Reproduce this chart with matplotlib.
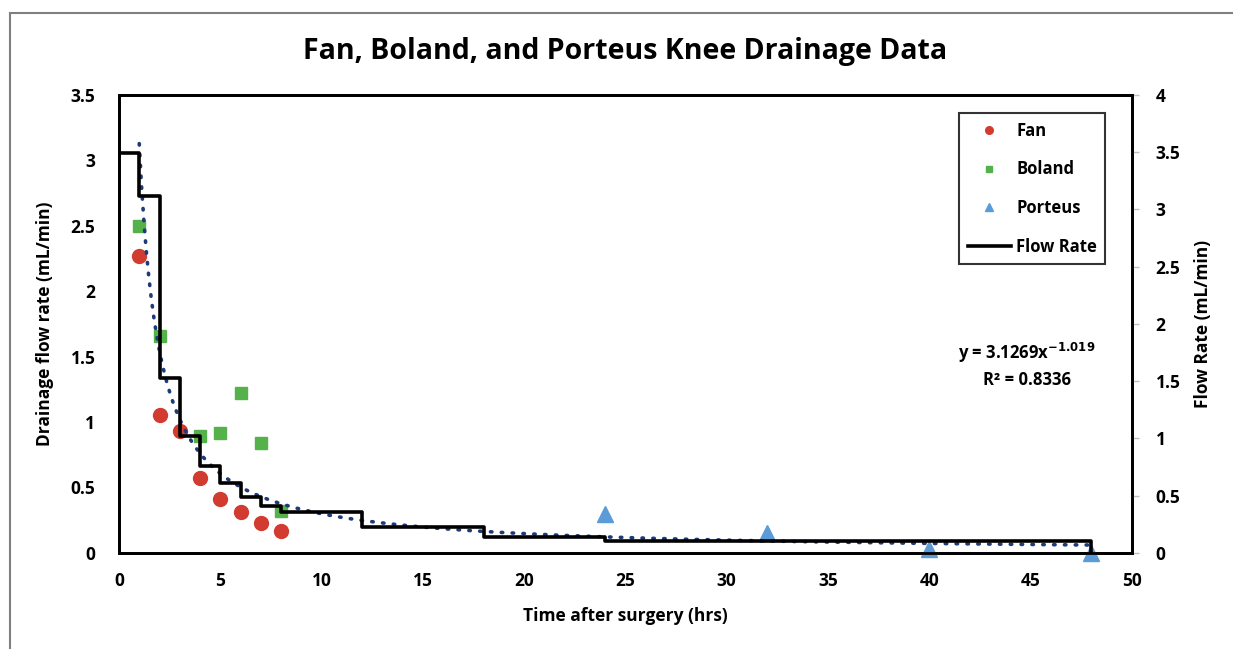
"""Fan, Boland and Porteus knee drainage data with step flow-rate profile."""

import numpy as np
import matplotlib

matplotlib.use("Agg")
import matplotlib.pyplot as plt
from matplotlib.patches import Rectangle

plt.rcParams["font.family"] = ["Open Sans", "DejaVu Sans"]
plt.rcParams["font.weight"] = "bold"

# Measured drainage rates (left axis, mL/min)
fan_t = [1, 2, 3, 4, 5, 6, 7, 8]
fan_rate = [2.27, 1.05, 0.93, 0.57, 0.41, 0.31, 0.23, 0.17]

boland_t = [1, 2, 4, 5, 6, 7, 8]
boland_rate = [2.50, 1.66, 0.89, 0.92, 1.22, 0.84, 0.32]

porteus_t = [24, 32, 40, 48]
porteus_rate = [0.30, 0.15, 0.03, 0.0]

# Step flow-rate profile (right axis, mL/min), value holds until next time
flow_t = [0, 1, 2, 3, 4, 5, 6, 7, 8, 12, 18, 24, 48]
flow_rate = [3.49, 3.12, 1.53, 1.02, 0.76, 0.61, 0.49, 0.41, 0.36, 0.23, 0.14, 0.105, 0.0]

# Power trendline as printed on the chart
trend_coef = 3.1269
trend_exp = -1.019
trend_r2 = 0.8336
trend_range = (1, 48)

fig = plt.figure(figsize=(12.33, 6.49), dpi=100)
ax = fig.add_axes([0.0965, 0.148, 0.8215, 0.706])

# outer chart frame (image is cropped on the right and bottom)
fig.patches.append(Rectangle((10 / 1233, -0.05), 1.1, 1 - 13 / 649 + 0.05,
                             transform=fig.transFigure, fill=False,
                             edgecolor="#7f7f7f", linewidth=1.5))

ax.plot(fan_t, fan_rate, "o", color="#D13B30", markersize=10, label="Fan",
        zorder=3, clip_on=False)
ax.plot(boland_t, boland_rate, "s", color="#55B14A", markersize=8.5, label="Boland",
        zorder=3, clip_on=False)
ax.plot(porteus_t, porteus_rate, "^", color="#5A9BD8", markersize=11, label="Porteus",
        zorder=3, clip_on=False)

tx = np.linspace(trend_range[0], trend_range[1], 400)
ax.plot(tx, trend_coef * tx ** trend_exp, linestyle=(0, (0.4, 2.6)), color="#1F3A78",
        linewidth=2.6, dash_capstyle="round", zorder=4)

ax.set_xlim(0, 50)
ax.set_ylim(0, 3.5)
ax.set_xticks(np.arange(0, 51, 5))
ax.set_yticks(np.arange(0, 3.51, 0.5))
ax.set_yticklabels(["0", "0.5", "1", "1.5", "2", "2.5", "3", "3.5"])
ax.tick_params(axis="both", length=0, labelsize=12.5)
ax.tick_params(axis="x", pad=14)
ax.tick_params(axis="y", pad=17)
ax.set_xlabel("Time after surgery (hrs)", fontsize=12.5, fontweight="bold", labelpad=12)
ax.set_ylabel("Drainage flow rate (mL/min)", fontsize=12.5, fontweight="bold", labelpad=12)

ax2 = ax.twinx()
ax2.step(flow_t, flow_rate, where="post", color="black", linewidth=2.6,
         label="Flow Rate", zorder=5)
ax2.set_ylim(0, 4)
ax2.set_yticks(np.arange(0, 4.01, 0.5))
ax2.set_yticklabels(["0", "0.5", "1", "1.5", "2", "2.5", "3", "3.5", "4"])
ax2.tick_params(axis="y", length=5, color="#bfbfbf", width=1, labelsize=12.5, pad=12)
ax2.set_ylabel("Flow Rate (mL/min)", fontsize=12.5, fontweight="bold", labelpad=10)

for a in (ax, ax2):
    for s in a.spines.values():
        s.set_color("black")
        s.set_linewidth(2)

ax.set_title("Fan, Boland, and Porteus Knee Drainage Data", fontsize=20.5,
             fontweight="bold", pad=26)

h1, l1 = ax.get_legend_handles_labels()
h2, l2 = ax2.get_legend_handles_labels()
leg = ax2.legend(h1 + h2, l1 + l2, loc="upper right", bbox_to_anchor=(0.982, 0.978),
                 fontsize=12, markerscale=0.55, frameon=True, fancybox=False,
                 labelspacing=1.25, handlelength=2.6, handletextpad=0.3,
                 borderpad=0.5)
leg.get_frame().set_edgecolor("black")
leg.get_frame().set_linewidth(1.5)

ax2.text(0.896, 0.41, "y = 3.1269x$^{\\mathbf{-1.019}}$\nR² = 0.8336",
         transform=ax2.transAxes, ha="center", va="center", fontsize=12,
         fontweight="bold", linespacing=1.4)

fig.savefig("out.png", dpi=100)
